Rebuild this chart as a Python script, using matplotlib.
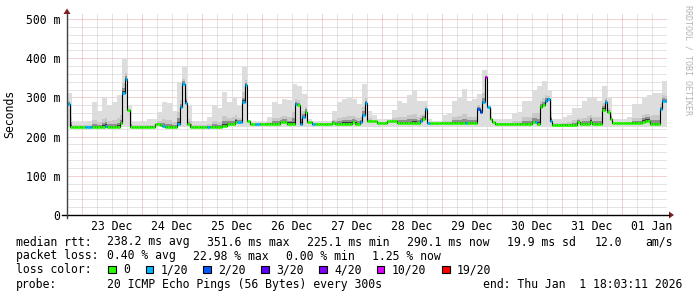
import numpy as np
import matplotlib
matplotlib.use('Agg')
import matplotlib.pyplot as plt
from matplotlib.patches import Rectangle, Polygon
from matplotlib.lines import Line2D

plt.rcParams['font.family'] = ['DejaVu Sans Mono', 'DejaVu Sans']

W, H = 697, 297
FS = 8.3

# hours counted from 22 Dec 00:00, one median value per hour
t_start = 18.05
median_ms = [
    284, 225, 225, 225, 225, 225, 225, 225, 225, 225, 225, 225, 225, 225, 225, 228, 225, 225, 225, 225, 225, 234, 312, 348,
    267, 225, 225, 225, 225, 225, 225, 225, 225, 225, 225, 231, 231, 230, 227, 225, 225, 225, 225, 225, 233, 275, 335, 285,
    231, 225, 225, 225, 225, 225, 225, 225, 225, 225, 224, 224, 224, 224, 228, 228, 232, 232, 232, 238, 236, 236, 288, 332,
    241, 232, 232, 232, 232, 233, 233, 233, 233, 233, 233, 233, 233, 236, 236, 236, 233, 233, 233, 282, 280, 233, 249, 264,
    236, 236, 232, 233, 233, 233, 233, 233, 233, 233, 235, 233, 233, 233, 233, 233, 233, 233, 237, 233, 233, 237, 254, 285,
    239, 239, 239, 239, 235, 235, 235, 235, 239, 239, 239, 239, 235, 235, 235, 235, 235, 235, 235, 235, 235, 240, 246, 271,
    235, 234, 234, 234, 234, 234, 234, 234, 234, 234, 234, 234, 234, 234, 234, 234, 234, 234, 234, 234, 271, 262, 288, 352,
    275, 244, 236, 232, 232, 232, 232, 232, 232, 232, 232, 232, 232, 232, 232, 232, 232, 232, 237, 237, 232, 275, 280, 292,
    296, 241, 230, 230, 230, 230, 230, 230, 230, 230, 230, 230, 238, 232, 232, 232, 232, 238, 232, 232, 232, 232, 269, 287,
    262, 244, 234, 234, 234, 234, 234, 234, 234, 234, 234, 234, 234, 234, 238, 241, 241, 232, 232, 232, 232, 271, 292, 290,
]

# lost pings (of 20) for the hours that had any loss
loss_hour = [0, 7, 8, 9, 15, 22, 23, 38, 44, 45, 46, 47, 56, 68, 69, 70, 71, 75, 76,
             91, 93, 94, 98, 117, 118, 119, 141, 143, 144, 159, 164, 165, 166, 167,
             168, 187, 191, 192, 193, 215, 237, 238, 239]
loss_count = [1, 1, 1, 1, 1, 1, 1, 1, 1, 1, 1, 1, 1, 1, 1, 1, 1, 1, 1,
              1, 1, 1, 1, 1, 1, 1, 1, 1, 1, 1, 2, 2, 1, 10,
              1, 1, 1, 1, 1, 1, 1, 1, 1]

# top of the smoke (slowest ping), one value per 2 hours
smoke_top_ms = [
    311, 237, 237, 237, 240, 288, 265, 300, 280, 288,
    305, 400, 277, 237, 237, 237, 245, 245, 262, 288,
    285, 265, 339, 378, 277, 239, 239, 239, 250, 280,
    272, 313, 288, 300, 277, 377, 240, 238, 238, 238,
    250, 288, 284, 297, 293, 335, 330, 309, 245, 240,
    240, 240, 240, 265, 288, 297, 300, 297, 284, 335,
    265, 254, 246, 246, 246, 267, 292, 285, 305, 318,
    290, 292, 245, 241, 241, 255, 259, 290, 301, 322,
    292, 295, 309, 369, 274, 246, 246, 246, 246, 259,
    262, 292, 292, 318, 330, 343, 320, 246, 246, 250,
    255, 274, 274, 290, 301, 298, 292, 330, 300, 246,
    246, 246, 250, 284, 284, 301, 305, 310, 310, 343,
]

day_labels = ['23 Dec', '24 Dec', '25 Dec', '26 Dec', '27 Dec',
              '28 Dec', '29 Dec', '30 Dec', '31 Dec', '01 Jan']
loss_labels = ['0', '1/20', '2/20', '3/20', '4/20', '10/20', '19/20']
loss_min = [0, 1, 2, 3, 4, 10, 19]
loss_colors = ['#26ff00', '#00b8ff', '#0059ff', '#5e00ff', '#7e00ff', '#dd00ff', '#ff0000']


def fx(x):
    return x / W


def fy(y):
    return 1 - y / H


fig = plt.figure(figsize=(W / 100, H / 100), dpi=100)
fig.patch.set_facecolor('white')
ax_l, ax_r, ax_b, ax_t = 67.0, 667.0, 215.0, 13.0
ax = fig.add_axes([fx(ax_l), fy(ax_b), (ax_r - ax_l) / W, (ax_b - ax_t) / H])
n = len(median_ms)
ax.set_xlim(t_start, t_start + n)
ax.set_ylim(0, (ax_b - ax_t) / 0.392)
for s in ax.spines.values():
    s.set_visible(False)

# grid, dotted 1 on 1 off
dot = (0, (1, 1))
for v in range(20, 501, 20):
    c = '#e4a6a6' if v % 100 == 0 else '#cacaca'
    ax.axhline(v, color=c, lw=0.72, ls=dot, zorder=0.5)
for h in range(24, 259, 6):
    c = '#e4a6a6' if h % 24 == 0 else '#cacaca'
    ax.axvline(h, color=c, lw=0.72, ls=dot, zorder=0.5)

t = t_start + np.arange(n)
te = np.append(t, t[-1] + 1)
med = np.array(median_ms, dtype=float)
top = np.repeat(smoke_top_ms, 2).astype(float)
spread = top - med

# smoke
ax.fill_between(te, 224, np.append(top, top[-1]), step='post', color='#dddddd', lw=0, zorder=1)
for frac, col in [(0.28, '#c8c8c8'), (0.13, '#8e8e8e'), (0.05, '#3c3c3c')]:
    hi = med + frac * spread
    ax.fill_between(te, np.append(med, med[-1]), np.append(hi, hi[-1]), step='post',
                    color=col, lw=0, zorder=1.2)

# median with loss colour
loss = np.zeros(n, dtype=int)
loss[loss_hour] = loss_count
cols = []
for c in loss:
    k = max(i for i, m in enumerate(loss_min) if c >= m)
    cols.append(loss_colors[k])
ax.step(te, np.append(med, med[-1]), where='post', color='black', lw=0.8, zorder=2)
lc = ax.hlines(med, t, t + 1, colors=cols, lw=2.0, zorder=3)
lc.set_capstyle('butt')

# ticks
ax.set_yticks([0, 100, 200, 300, 400, 500])
ax.set_yticklabels(['0', '100 m', '200 m', '300 m', '400 m', '500 m'], fontsize=FS)
ax.set_xticks(np.arange(36, 36 + 24 * len(day_labels), 24))
ax.set_xticklabels(day_labels, fontsize=FS)
ax.tick_params(axis='y', length=0, pad=4.6)
ax.tick_params(axis='x', length=0, pad=3.7)

# axes with arrows
axis_col = '#404040'
arrow_col = '#7f1f1f'
fig.add_artist(Line2D([fx(62), fx(669)], [fy(ax_b), fy(ax_b)], color='black', lw=1.0))
fig.add_artist(Line2D([fx(ax_l), fx(ax_l)], [fy(218), fy(14)], color=axis_col, lw=1.0))
fig.add_artist(Polygon([[fx(669), fy(ax_b - 3.5)], [fx(669), fy(ax_b + 3.5)], [fx(674), fy(ax_b)]],
                       closed=True, color=arrow_col, lw=0))
fig.add_artist(Polygon([[fx(ax_l - 3.5), fy(14)], [fx(ax_l + 3.5), fy(14)], [fx(ax_l), fy(8.5)]],
                       closed=True, color=arrow_col, lw=0))

fig.text(fx(10), fy(114), 'Seconds', rotation=90, ha='center', va='center', fontsize=FS)
fig.text(fx(688), fy(60), 'RRDTOOL / TOBI OETIKER', rotation=270, ha='center', va='center',
         fontsize=6.0, color='#b4b4b4')

# legend block
def put(x, row_y, s):
    fig.text(fx(x), fy(row_y), s, ha='left', va='baseline', fontsize=FS)


r1, r2, r3, r4 = 245.5, 259.5, 273.3, 288.0
put(16, r1, 'median rtt:')
for x, s in [(107.3, '238.2 ms avg'), (207.3, '351.6 ms max'), (307.3, '225.1 ms min'),
             (407.3, '290.1 ms now'), (507.3, '19.9 ms sd'), (595, '12.0'), (645, 'am/s')]:
    put(x, r1, s)
put(16, r2, 'packet loss:')
for x, s in [(107.3, '0.40 % avg'), (193.3, '22.98 % max'), (286, '0.00 % min'), (371.7, '1.25 % now')]:
    put(x, r2, s)
put(16, r3, 'loss color:')
box_x = [108.3, 145.7, 203.3, 261, 319, 376.7, 442.3]
lab_x = [123.3, 161, 218.3, 276, 334.3, 391.7, 456.7]
for bx, lx, lab, col in zip(box_x, lab_x, loss_labels, loss_colors):
    fig.add_artist(Rectangle((fx(bx), fy(273)), 7.5 / W, 7.5 / H, facecolor=col,
                             edgecolor='black', lw=0.8))
    put(lx, r3, lab)
put(16, r4, 'probe:')
put(107.3, r4, '20 ICMP Echo Pings (56 Bytes) every 300s')
put(483, r4, 'end: Thu Jan  1 18:03:11 2026')

fig.savefig('out.png', dpi=100, facecolor='white')
